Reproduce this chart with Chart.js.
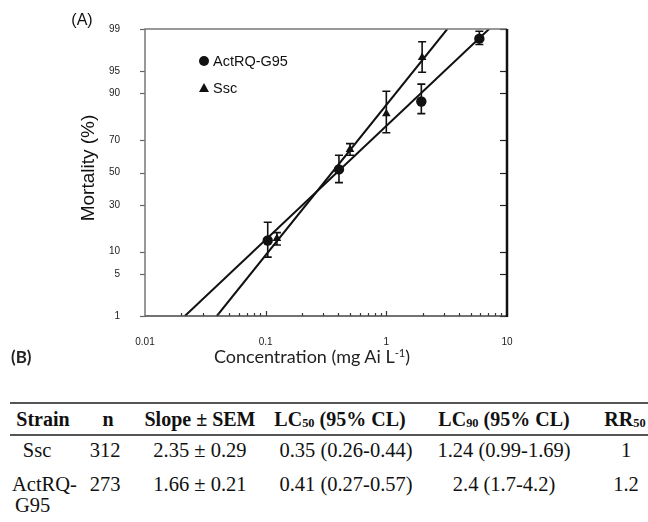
<!DOCTYPE html>
<html>
<head>
<meta charset="utf-8">
<script src="https://cdn.jsdelivr.net/npm/chart.js@4.4.1/dist/chart.umd.min.js"></script>
<style>
  html, body { margin: 0; padding: 0; background: #fff; }
  #wrap { position: relative; width: 648px; height: 522px; overflow: hidden; background: #fff; }
  #c { position: absolute; left: 0; top: 0; }
  .t { position: absolute; white-space: nowrap; color: #111; }
  .sans { font-family: "Liberation Sans", Arial, sans-serif; }
  .cal { font-family: Lato, "Open Sans", sans-serif; }
  .serif { font-family: "Liberation Serif", "Times New Roman", serif; font-size: 20.5px; color: #111; }
  .hd { font-weight: bold; font-size: 20px; }
  .c { transform: translate(-50%, -50%); }
  .l { transform: translate(0, -50%); }
  .rule { position: absolute; left: 10px; width: 638px; background: #555; }
  sub { font-size: 62%; vertical-align: -0.15em; line-height: 0; }
  sup { font-size: 62%; vertical-align: 0.55em; line-height: 0; }
  .mk-c { position: absolute; width: 10px; height: 10px; border-radius: 50%; background: #111; transform: translate(-50%, -50%); }
  .mk-t { position: absolute; width: 0; height: 0; border-left: 5px solid transparent; border-right: 5px solid transparent; border-bottom: 9px solid #111; transform: translate(-50%, -55%); }
</style>
</head>
<body>
<div id="wrap">
  <canvas id="c" width="648" height="375"></canvas>

  <div class="t sans c" style="left:82px; top:20px; font-size:16px;">(A)</div>
  <div class="t sans c" style="left:88px; top:168px; font-size:19px; transform: translate(-50%,-50%) rotate(-90deg);">Mortality (%)</div>
  <div class="t cal c" style="left:312px; top:356px; font-size:18px; color:#222;">Concentration (mg Ai L<sup>-1</sup>)</div>
  <div class="t cal l" style="left:11px; top:356px; font-size:17px; font-weight:bold; color:#222;">(B)</div>

  <div class="mk-c" style="left:204px; top:61px;"></div>
  <div class="t sans l" style="left:213px; top:61px; font-size:14.5px;">ActRQ-G95</div>
  <div class="mk-t" style="left:204px; top:88px;"></div>
  <div class="t sans l" style="left:213px; top:88px; font-size:14.5px;">Ssc</div>

  <div class="rule" style="top:402px; height:2px;"></div>
  <div class="rule" style="top:434px; height:1.5px;"></div>

  <div class="t serif hd c" style="left:43px; top:419px;">Strain</div>
  <div class="t serif hd c" style="left:108px; top:419px;">n</div>
  <div class="t serif hd c" style="left:200px; top:419px;">Slope ± SEM</div>
  <div class="t serif hd c" style="left:340px; top:419px;">LC<sub>50</sub> (95% CL)</div>
  <div class="t serif hd c" style="left:504px; top:419px;">LC<sub>90</sub> (95% CL)</div>
  <div class="t serif hd c" style="left:625px; top:419px;">RR<sub>50</sub></div>

  <div class="t serif c" style="left:37px; top:450px;">Ssc</div>
  <div class="t serif c" style="left:105px; top:450px;">312</div>
  <div class="t serif c" style="left:200px; top:450px;">2.35 ± 0.29</div>
  <div class="t serif c" style="left:346px; top:450px;">0.35 (0.26-0.44)</div>
  <div class="t serif c" style="left:504px; top:450px;">1.24 (0.99-1.69)</div>
  <div class="t serif c" style="left:626px; top:450px;">1</div>

  <div class="t serif l" style="left:12px; top:484px;">ActRQ-</div>
  <div class="t serif c" style="left:105px; top:484px;">273</div>
  <div class="t serif c" style="left:200px; top:484px;">1.66 ± 0.21</div>
  <div class="t serif c" style="left:346px; top:484px;">0.41 (0.27-0.57)</div>
  <div class="t serif c" style="left:504px; top:484px;">2.4 (1.7-4.2)</div>
  <div class="t serif c" style="left:626px; top:484px;">1.2</div>
  <div class="t serif l" style="left:15px; top:505px;">G95</div>
</div>

<script>
// ---------- data ----------
const concActRQ    = [0.104, 0.405, 1.95, 5.9];
const mortActRQ    = [13.5, 52, 87.5, 98.5];
const errLowActRQ  = [8.5, 43.5, 83, 98.1];
const errHighActRQ = [21, 61, 92.4, 98.9];

const concSsc    = [0.124, 0.5, 1.0, 1.98];
const mortSsc    = [14.2, 64.5, 83, 96.9];
const errLowSsc  = [12, 61, 74, 94.8];
const errHighSsc = [16.5, 68, 90.6, 98.3];

const fitActRQConc = [0.0214, 7.1];
const fitActRQMort = [1, 99];
const fitSscConc   = [0.0394, 3.2];
const fitSscMort   = [1, 99];

const yTickPercents = [1, 5, 10, 30, 50, 70, 90, 95, 99];
const xMajorTicks   = [0.01, 0.1, 1, 10];
const xTickLabels   = ['0.01', '0.1', '1', '10'];

// ---------- probit transform (inverse normal CDF, Acklam) ----------
function probit(pct) {
  const p = pct / 100;
  const a = [-3.969683028665376e+01, 2.209460984245205e+02, -2.759285104469687e+02, 1.383577518672690e+02, -3.066479806614716e+01, 2.506628277459239e+00];
  const b = [-5.447609879822406e+01, 1.615858368580409e+02, -1.556989798598866e+02, 6.680131188771802e+01, -1.328068155288572e+01];
  const c = [-7.784894002430293e-03, -3.223964580411365e-01, -2.400758296346421e+00, -2.549732970017692e+00, 4.374664141464968e+00, 2.938163982698783e+00];
  const d = [7.784695709041462e-03, 3.224671290700398e-01, 2.445134137142996e+00, 3.754408661907416e+00];
  const plow = 0.02425;
  let q, r;
  if (p < plow) {
    q = Math.sqrt(-2 * Math.log(p));
    return (((((c[0]*q+c[1])*q+c[2])*q+c[3])*q+c[4])*q+c[5]) / ((((d[0]*q+d[1])*q+d[2])*q+d[3])*q+1);
  } else if (p <= 1 - plow) {
    q = p - 0.5; r = q*q;
    return (((((a[0]*r+a[1])*r+a[2])*r+a[3])*r+a[4])*r+a[5])*q / (((((b[0]*r+b[1])*r+b[2])*r+b[3])*r+b[4])*r+1);
  } else {
    q = Math.sqrt(-2 * Math.log(1 - p));
    return -(((((c[0]*q+c[1])*q+c[2])*q+c[3])*q+c[4])*q+c[5]) / ((((d[0]*q+d[1])*q+d[2])*q+d[3])*q+1);
  }
}

const toPts = (xs, ys) => xs.map((x, i) => ({ x: x, y: probit(ys[i]) }));

// minor ticks on the log axis (2..9 per decade)
const xMinorTicks = [];
for (let i = 0; i < xMajorTicks.length - 1; i++) {
  for (let m = 2; m <= 9; m++) xMinorTicks.push(+(xMajorTicks[i] * m).toPrecision(3));
}

// ---------- plugin: frame, inward ticks, error bars ----------
const decor = {
  id: 'decor',
  beforeDatasetsDraw(chart) {
    const ctx = chart.ctx, xs = chart.scales.x, ys = chart.scales.y;
    const sets = [
      { conc: concActRQ, lo: errLowActRQ, hi: errHighActRQ },
      { conc: concSsc, lo: errLowSsc, hi: errHighSsc }
    ];
    ctx.save();
    ctx.strokeStyle = '#111';
    ctx.lineWidth = 1.6;
    sets.forEach(s => {
      s.conc.forEach((cx, i) => {
        const px = xs.getPixelForValue(cx);
        const y1 = ys.getPixelForValue(probit(s.lo[i]));
        const y2 = ys.getPixelForValue(probit(s.hi[i]));
        ctx.beginPath();
        ctx.moveTo(px, y1); ctx.lineTo(px, y2);
        ctx.moveTo(px - 4, y1); ctx.lineTo(px + 4, y1);
        ctx.moveTo(px - 4, y2); ctx.lineTo(px + 4, y2);
        ctx.stroke();
      });
    });
    ctx.restore();
  },
  afterDraw(chart) {
    const ctx = chart.ctx, a = chart.chartArea, xs = chart.scales.x, ys = chart.scales.y;
    ctx.save();
    ctx.strokeStyle = '#333';
    ctx.lineWidth = 1.2;
    xMinorTicks.forEach(v => {
      const px = Math.round(xs.getPixelForValue(v)) + 0.5;
      ctx.beginPath(); ctx.moveTo(px, a.bottom); ctx.lineTo(px, a.bottom - 3); ctx.stroke();
    });
    [0.1, 1].forEach(v => {
      const px = Math.round(xs.getPixelForValue(v)) + 0.5;
      ctx.beginPath(); ctx.moveTo(px, a.bottom); ctx.lineTo(px, a.bottom - 5); ctx.stroke();
    });
    yTickPercents.forEach(p => {
      const py = Math.round(ys.getPixelForValue(probit(p))) + 0.5;
      ctx.strokeStyle = '#666';
      ctx.beginPath(); ctx.moveTo(a.left - 5, py); ctx.lineTo(a.left, py); ctx.stroke();
      ctx.strokeStyle = '#222';
      ctx.beginPath(); ctx.moveTo(a.right, py); ctx.lineTo(a.right - 7, py); ctx.stroke();
    });
    ctx.lineWidth = 1.5;
    ctx.strokeStyle = '#777';
    ctx.beginPath(); ctx.moveTo(a.left, a.bottom); ctx.lineTo(a.left, a.top); ctx.lineTo(a.right, a.top); ctx.stroke();
    ctx.strokeStyle = '#444';
    ctx.beginPath(); ctx.moveTo(a.left, a.bottom); ctx.lineTo(a.right, a.bottom); ctx.stroke();
    ctx.lineWidth = 2.5;
    ctx.strokeStyle = '#111';
    ctx.beginPath(); ctx.moveTo(a.right, a.top); ctx.lineTo(a.right, a.bottom + 1); ctx.stroke();
    ctx.restore();
  }
};

new Chart(document.getElementById('c'), {
  type: 'scatter',
  data: {
    datasets: [
      { label: 'fitActRQ', type: 'line', data: toPts(fitActRQConc, fitActRQMort), borderColor: '#111', borderWidth: 2, pointRadius: 0, fill: false, tension: 0 },
      { label: 'fitSsc', type: 'line', data: toPts(fitSscConc, fitSscMort), borderColor: '#111', borderWidth: 2, pointRadius: 0, fill: false, tension: 0 },
      { label: 'ActRQ-G95', data: toPts(concActRQ, mortActRQ), pointStyle: 'circle', pointRadius: 5.2, backgroundColor: '#111', borderColor: '#111', borderWidth: 0 },
      { label: 'Ssc', data: toPts(concSsc, mortSsc), pointStyle: 'triangle', pointRadius: 5, backgroundColor: '#111', borderColor: '#111', borderWidth: 0 }
    ]
  },
  options: {
    responsive: false,
    animation: false,
    devicePixelRatio: 1,
    layout: { padding: { top: 29, right: 141, left: 0, bottom: 19 } },
    plugins: { legend: { display: false }, tooltip: { enabled: false } },
    scales: {
      x: {
        type: 'logarithmic',
        min: 0.01, max: 10,
        grid: { display: false },
        border: { display: false },
        afterBuildTicks: s => { s.ticks = xMajorTicks.map(v => ({ value: v })); },
        afterFit: s => { s.height = 40; },
        ticks: {
          autoSkip: false, maxRotation: 0, padding: 12,
          font: { family: 'Liberation Sans', size: 10 }, color: '#222',
          callback: (v, i) => xTickLabels[i]
        }
      },
      y: {
        type: 'linear',
        min: probit(1), max: probit(99),
        grid: { display: false },
        border: { display: false },
        afterBuildTicks: s => { s.ticks = yTickPercents.map(p => ({ value: probit(p) })); },
        afterFit: s => { s.width = 145; },
        ticks: {
          autoSkip: false, padding: 17,
          font: { family: 'Liberation Sans', size: 10 }, color: '#222',
          callback: (v, i) => String(yTickPercents[i])
        }
      }
    }
  },
  plugins: [decor]
});
</script>
</body>
</html>
